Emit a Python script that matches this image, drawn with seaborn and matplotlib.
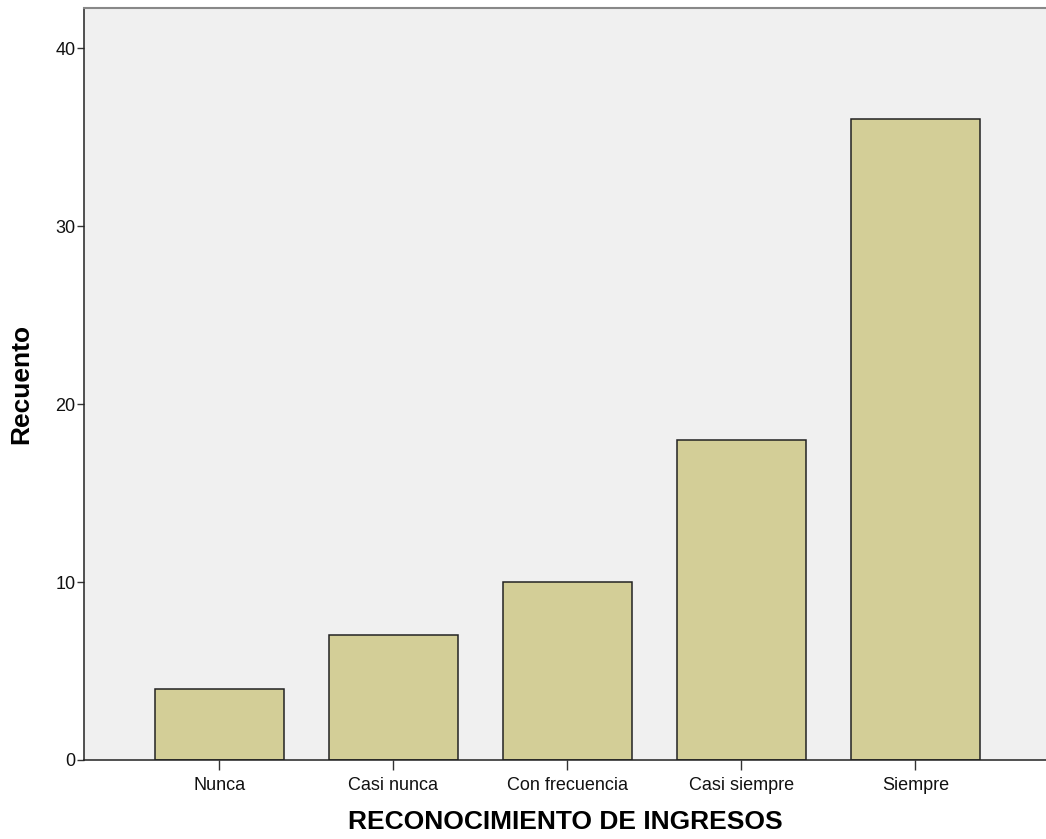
import matplotlib
matplotlib.use('Agg')
import matplotlib.pyplot as plt
import seaborn as sns
import pandas as pd

# datos
categorias = ['Nunca', 'Casi nunca', 'Con frecuencia', 'Casi siempre', 'Siempre']
recuento = [4, 7, 10, 18, 36]
yticks = [0, 10, 20, 30, 40]

df = pd.DataFrame({'categoria': categorias, 'recuento': recuento})

sns.set_style('white')
plt.rcParams['font.family'] = ['Liberation Sans', 'DejaVu Sans']

W, H = 1046, 839
fig = plt.figure(figsize=(W / 100, H / 100), dpi=100)
ax = fig.add_axes([84 / W, 79 / H, (W - 84) / W, 752 / H])
ax.set_facecolor('#F0F0F0')

sns.barplot(data=df, x='categoria', y='recuento', order=categorias,
            color='#D3CE97', saturation=1, width=0.74,
            edgecolor='#222222', linewidth=1.1, ax=ax)

ax.set_xlim(-0.776, 4.75)
ax.set_ylim(0, 42.25)
ax.set_yticks(yticks)
ax.set_yticklabels([str(t) for t in yticks])

ax.tick_params(axis='y', left=True, length=5, width=1, color='#333333',
               labelsize=13, labelcolor='#111111', pad=1)
ax.tick_params(axis='x', bottom=True, length=7, width=1, color='#333333',
               labelsize=13, labelcolor='#111111', pad=5)

for s in ['left', 'bottom']:
    ax.spines[s].set_color('#222222')
    ax.spines[s].set_linewidth(1.1)
ax.spines['top'].set_color('#888888')
ax.spines['top'].set_linewidth(1.5)
ax.spines['right'].set_visible(False)

ax.set_xlabel('RECONOCIMIENTO DE INGRESOS', fontsize=19, fontweight='bold',
              color='black', labelpad=12)
ax.set_ylabel('Recuento', fontsize=19, fontweight='bold', color='black', labelpad=16)

fig.savefig('out.png', dpi=100)
